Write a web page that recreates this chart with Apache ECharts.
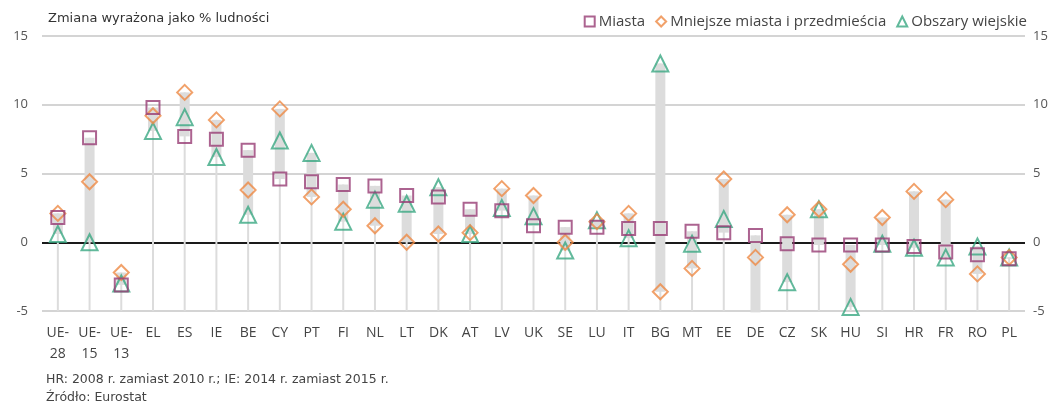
<!DOCTYPE html>
<html>
<head>
<meta charset="utf-8">
<script src="https://cdn.jsdelivr.net/npm/echarts@6/dist/echarts.min.js"></script>
<style>
  html, body { margin: 0; padding: 0; background: #fff; }
  #chart { width: 1059px; height: 409px; }
</style>
</head>
<body>
<div id="chart"></div>
<script>
const categories = ['UE-\n28', 'UE-\n15', 'UE-\n13', 'EL', 'ES', 'IE', 'BE', 'CY', 'PT', 'FI', 'NL', 'LT', 'DK', 'AT', 'LV', 'UK', 'SE', 'LU', 'IT', 'BG', 'MT', 'EE', 'DE', 'CZ', 'SK', 'HU', 'SI', 'HR', 'FR', 'RO', 'PL']

// Miasta
const cities = [1.8, 7.6, -3.1, 9.8, 7.7, 7.5, 6.7, 4.6, 4.4, 4.2, 4.1, 3.4, 3.3, 2.4, 2.3, 1.2, 1.1, 1.1, 1.0, 1.0, 0.8, 0.7, 0.5, -0.1, -0.2, -0.2, -0.2, -0.3, -0.7, -0.9, -1.2]
// Mniejsze miasta i przedmieścia
const towns = [2.1, 4.4, -2.2, 9.2, 10.9, 8.9, 3.8, 9.7, 3.3, 2.4, 1.2, 0.0, 0.6, 0.7, 3.9, 3.4, 0.0, 1.5, 2.1, -3.6, -1.9, 4.6, -1.1, 2.0, 2.4, -1.6, 1.8, 3.7, 3.1, -2.3, -1.1]
// Obszary wiejskie
const rural = [0.6, 0.0, -3.0, 8.1, 9.1, 6.2, 2.0, 7.4, 6.5, 1.5, 3.1, 2.8, 4.0, 0.6, 2.5, 1.9, -0.6, 1.6, 0.3, 13.0, -0.1, 1.7, -5.1, -2.9, 2.4, -4.7, -0.1, -0.4, -1.1, -0.3, -1.1]

const yTicks = [-5, 0, 5, 10, 15]

const colors = ['#973c74', '#ee8a45', '#3aa882']

const rangeData = categories.map((c, i) => {
  const vals = [cities[i], towns[i], rural[i]]
  return [i, Math.min.apply(null, vals), Math.max.apply(null, vals)]
})

const chart = echarts.init(document.getElementById('chart'))

const labelFont = 'Open Sans, sans-serif'
const noteFont = 'DejaVu Sans, sans-serif'

function markerSeries(name, data, symbol, size, color) {
  return {
    name: name,
    type: 'scatter',
    data: data,
    symbol: symbol,
    symbolSize: size,
    itemStyle: {
      color: 'rgba(255,255,255,0)',
      borderColor: color,
      borderWidth: 2
    },
    z: 5
  }
}

chart.setOption({
  animation: false,
  textStyle: { fontFamily: labelFont },
  grid: { left: 42, right: 34, top: 36, bottom: 98 },
  legend: {
    right: 27,
    top: 9,
    itemWidth: 10,
    itemHeight: 10,
    itemGap: 10,
    textStyle: { fontSize: 15, color: '#444', padding: [0, 0, 0, -1] },
    data: [
      { name: 'Miasta', icon: 'rect' },
      { name: 'Mniejsze miasta i przedmieścia', icon: 'diamond' },
      { name: 'Obszary wiejskie', icon: 'triangle' }
    ]
  },
  xAxis: {
    type: 'category',
    data: categories,
    axisLine: { show: false },
    axisTick: { show: false },
    axisLabel: {
      interval: 0,
      fontSize: 14,
      color: '#444',
      lineHeight: 21,
      margin: 12,
      verticalAlign: 'top'
    }
  },
  yAxis: [
    {
      type: 'value',
      min: -5,
      max: 15,
      interval: 5,
      axisLine: { show: false },
      axisTick: { show: false },
      axisLabel: { fontSize: 13, color: '#555', margin: 14 },
      splitLine: {
        lineStyle: {
          width: 2,
          color: yTicks.map(v => (v === 0 ? '#1a1a1a' : '#d4d4d4'))
        }
      }
    },
    {
      type: 'value',
      position: 'right',
      min: -5,
      max: 15,
      interval: 5,
      axisLine: { show: false },
      axisTick: { show: false },
      axisLabel: { fontSize: 13, color: '#555', margin: 8 },
      splitLine: { show: false }
    }
  ],
  series: [
    {
      name: 'range',
      type: 'custom',
      data: rangeData,
      encode: { x: 0, y: [1, 2] },
      z: 2,
      silent: true,
      renderItem: function (params, api) {
        const i = api.value(0)
        const base = api.coord([i, -5])
        const lo = api.coord([i, api.value(1)])
        const hi = api.coord([i, api.value(2)])
        return {
          type: 'group',
          children: [
            {
              type: 'line',
              shape: { x1: base[0], y1: base[1], x2: hi[0], y2: hi[1] },
              style: { stroke: '#dcdcdc', lineWidth: 2 }
            },
            {
              type: 'rect',
              shape: { x: lo[0] - 5, y: hi[1], width: 10, height: lo[1] - hi[1] },
              style: { fill: '#dcdcdc' }
            }
          ]
        }
      }
    },
    markerSeries('Obszary wiejskie', rural, 'triangle', 16, colors[2]),
    markerSeries('Mniejsze miasta i przedmieścia', towns, 'diamond', 15, colors[1]),
    markerSeries('Miasta', cities, 'rect', 13, colors[0])
  ],
  color: [colors[0], colors[1], colors[2]],
  graphic: [
    {
      type: 'text',
      left: 48,
      top: 12,
      style: { text: 'Zmiana wyrażona jako % ludności', fontSize: 13, fill: '#333', fontFamily: noteFont }
    },
    {
      type: 'text',
      left: 46,
      top: 373,
      style: { text: 'HR: 2008 r. zamiast 2010 r.; IE: 2014 r. zamiast 2015 r.', fontSize: 12.5, fill: '#444', fontFamily: noteFont }
    },
    {
      type: 'text',
      left: 46,
      top: 391,
      style: { text: 'Źródło: Eurostat', fontSize: 12.5, fill: '#444', fontFamily: noteFont }
    }
  ]
})
</script>
</body>
</html>
